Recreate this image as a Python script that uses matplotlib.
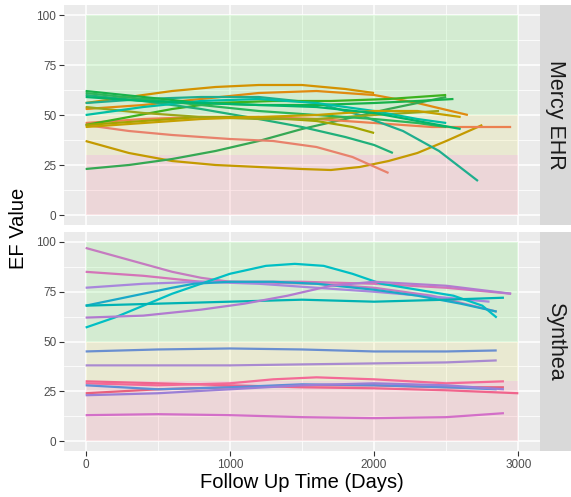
import matplotlib
matplotlib.use("Agg")
import matplotlib.pyplot as plt
from matplotlib.ticker import MultipleLocator

plt.rcParams['font.family'] = ['Liberation Sans', 'DejaVu Sans']

# ---------------- data ----------------
facets = ["Mercy EHR", "Synthea"]
band_edges = [0, 30, 50, 100]          # red / yellow / green zones
band_x = [0, 3000]
x_ticks = [0, 1000, 2000, 3000]
y_ticks = [0, 25, 50, 75, 100]

# Mercy EHR patients: (x days, EF values)
mercy_x = [
    [0, 300, 600, 900, 1200, 1500, 1800, 2000],
    [0, 400, 800, 1200, 1600, 2000, 2300, 2650],
    [0, 300, 600, 900, 1200, 1500, 1700, 1900, 2100, 2300, 2500, 2750],
    [0, 300, 600, 900, 1200, 1500, 1800, 2100, 2500],
    [0, 300, 600, 1000, 1300, 1600, 1850, 2100],
    [0, 400, 800, 1200, 1600, 2000, 2400, 2950],
    [0, 400, 800, 1200, 1600, 1900, 2200, 2450, 2720],
    [0, 400, 800, 1200, 1600, 2000, 2300, 2550],
    [0, 300, 600, 900, 1300, 1700, 2100, 2500],
    [0, 400, 800, 1200, 1500, 1800, 2000, 2130],
    [0, 400, 800, 1200, 1600, 1850, 2000],
    [0, 400, 800, 1200, 1600, 2000, 2450],
    [0, 400, 800, 1200, 1600, 2000, 2300, 2500],
    [0, 400, 800, 1200, 1600, 2000, 2300, 2500],
    [0, 400, 800, 1200, 1600, 2000, 2300, 2600],
    [0, 400, 800, 1200, 1600, 2000, 2300, 2600],
]
mercy_y = [
    [56, 59, 62, 64, 65, 65, 63, 61],
    [53, 55, 58, 61, 62, 60, 56, 50],
    [37, 31, 27, 25, 24, 23, 22.5, 24, 27, 31, 37, 45],
    [23, 25, 28, 32, 37, 43, 48, 53, 59],
    [45, 42, 40, 38, 37, 34, 29, 21],
    [46, 48, 49, 49, 48, 46, 44, 44],
    [56, 58, 59, 59, 56, 50, 42, 32, 17],
    [62, 59, 56, 55, 55, 56, 57, 58],
    [45, 49, 53, 56, 57, 57, 58, 60],
    [60, 57, 53, 48, 44, 39, 35, 31],
    [45, 47, 49, 49, 47, 44, 41],
    [54, 51, 49, 48, 48, 50, 52],
    [50, 54, 57, 58, 56, 52, 48, 46],
    [61, 58, 55, 52, 50, 48, 46, 44],
    [44, 46, 48, 49, 50, 52, 52, 49],
    [59, 57, 56, 55, 54, 51, 47, 43],
]
mercy_colors = ["#D39200", "#E08A10", "#C49A00", "#35A853", "#E8826C", "#EC8050",
                "#1FAE8E", "#17B24A", "#3DB21E", "#20B07A", "#A3A500", "#9AA61A",
                "#00BFA4", "#2BB55A", "#C5A000", "#00B66C"]

# Synthea patients
syn_x = [
    [0, 200, 400, 600, 800, 1000, 1300, 1600, 2000, 2400, 2850],
    [0, 400, 800, 1200, 1500, 2000, 2500, 2950],
    [0, 400, 800, 1200, 1600, 2000, 2500, 2800],
    [0, 200, 400, 600, 800, 1000, 1250, 1450, 1650, 1850, 2050, 2300, 2550, 2750, 2850],
    [0, 200, 400, 600, 750, 1000, 1300, 1600, 2000, 2300, 2600, 2850],
    [0, 500, 1000, 1500, 2000, 2500, 2900],
    [0, 400, 800, 1100, 1400, 1700, 2000, 2500, 2950],
    [0, 500, 1000, 1500, 2000, 2500, 2850],
    [0, 1000, 1500, 2000, 2500, 2850],
    [0, 500, 1000, 1500, 2000, 2500, 3000],
    [0, 500, 1000, 1300, 1600, 2000, 2500, 2900],
    [0, 500, 1000, 1500, 2000, 2500, 2900],
    [0, 500, 1000, 1500, 2000, 2500, 2850],
    [0, 500, 1000, 1500, 2000, 2500, 2900],
    [0, 500, 1000, 1500, 2000, 2500, 2900],
]
syn_y = [
    [97, 93, 89, 85, 82, 80, 79.5, 79, 77, 73, 65],
    [85, 83, 80, 80, 80, 79, 77, 74],
    [77, 79, 80, 79, 77, 75, 72, 70],
    [57, 62, 68, 74, 79, 84, 88, 89, 88, 84, 79, 76, 73, 68, 62],
    [68, 71, 74, 77, 79, 80, 80, 79, 76, 73, 69, 65],
    [68, 69, 70, 71, 70, 71, 72],
    [62, 63, 66, 69, 73, 78, 80, 78, 74],
    [45, 46, 46.5, 46, 45, 45, 45.5],
    [38, 38, 38.5, 39, 39.5, 40.5],
    [30, 29, 28, 27, 26.5, 25.5, 24],
    [29, 28, 29, 31, 32, 31, 29, 30],
    [24, 26, 27, 28, 28, 27, 27],
    [28, 26, 27, 28.5, 28, 27, 26],
    [23, 24, 26, 28, 29, 28, 26],
    [13, 13.5, 13, 12, 11.5, 12, 14],
]
syn_colors = ["#C57BC0", "#D474B8", "#A886DC", "#00BFC4", "#1AA9C8", "#00B3B3",
              "#B27BD0", "#6A8FD0", "#A98AD0", "#F0648C", "#F46A96", "#E8607C",
              "#5E8FD6", "#9B7FD6", "#D36FC8"]

band_colors = [(248/255, 95/255, 108/255), (228/255, 222/255, 62/255), (75/255, 235/255, 62/255)]

# ---------------- figure ----------------
W, H = 571, 497
fig = plt.figure(figsize=(W / 100, H / 100), dpi=100)

panel_left, panel_right = 64, 540
panels_px = [(5, 225), (232, 451)]
series = [(mercy_x, mercy_y, mercy_colors), (syn_x, syn_y, syn_colors)]

for i, ((top, bot), (xs, ys, cols)) in enumerate(zip(panels_px, series)):
    ax = fig.add_axes([panel_left / W, 1 - bot / H, (panel_right - panel_left) / W, (bot - top) / H])
    ax.set_facecolor("#EBEBEB")
    for s in ax.spines.values():
        s.set_visible(False)
    ax.set_xlim(-150, 3150)
    ax.set_ylim(-5, 105)
    ax.xaxis.set_major_locator(MultipleLocator(1000))
    ax.xaxis.set_minor_locator(MultipleLocator(500))
    ax.yaxis.set_major_locator(MultipleLocator(25))
    ax.yaxis.set_minor_locator(MultipleLocator(12.5))
    ax.grid(which='major', color='white', linewidth=1.1)
    ax.grid(which='minor', color='white', linewidth=0.55)
    ax.set_axisbelow(True)
    ax.tick_params(which='minor', length=0)
    ax.tick_params(which='major', length=3.5, width=0.8, color="#333333",
                   labelsize=8.5, labelcolor="#4D4D4D", pad=2)
    ax.set_yticks(y_ticks)
    ax.set_yticklabels([str(v) for v in y_ticks])
    ax.set_xticks(x_ticks)
    if i == 0:
        ax.tick_params(axis='x', length=0, labelbottom=False)
    else:
        ax.set_xticklabels([str(v) for v in x_ticks])

    for k in range(3):
        ax.fill_between(band_x, band_edges[k], band_edges[k + 1],
                        color=band_colors[k], alpha=0.15, linewidth=0, zorder=1)

    for x, y, c in zip(xs, ys, cols):
        ax.plot(x, y, color=c, linewidth=1.6, zorder=3, solid_capstyle='butt',
                solid_joinstyle='round')

    # strip
    sax = fig.add_axes([panel_right / W, 1 - bot / H, (W - panel_right) / W, (bot - top) / H])
    sax.set_facecolor("#D9D9D9")
    sax.set_xticks([])
    sax.set_yticks([])
    for s in sax.spines.values():
        s.set_visible(False)
    sax.text(0.5, 0.5, facets[i], rotation=270, ha='center', va='center',
             fontsize=15.5, color="#1A1A1A", transform=sax.transAxes)

fig.text(((panel_left + panel_right) / 2) / W, 1 - 483 / H, "Follow Up Time (Days)",
         ha='center', va='center', fontsize=14.5, color='black')
fig.text(19 / W, 1 - 228 / H, "EF Value", rotation=90, ha='center', va='center',
         fontsize=14.5, color='black')

fig.savefig("out.png", dpi=100, facecolor='white')
